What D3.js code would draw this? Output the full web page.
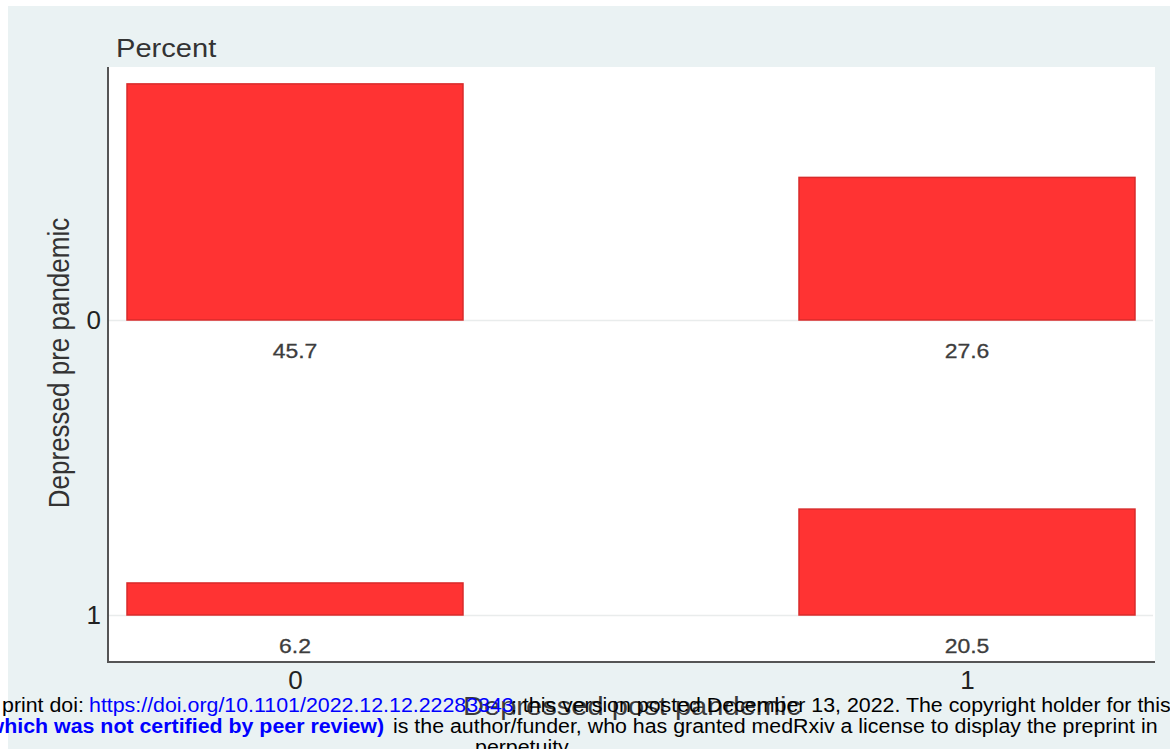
<!DOCTYPE html>
<html>
<head>
<meta charset="utf-8">
<script src="https://cdn.jsdelivr.net/npm/d3@7"></script>
<style>
  html, body { margin: 0; padding: 0; background: #ffffff; }
  svg { display: block; }
  text { font-family: "Liberation Sans", Arial, Helvetica, sans-serif; }
</style>
</head>
<body>
<svg id="chart" width="1170" height="749"></svg>
<script>
// ---- data ----
const preCategories = ["0", "1"];          // Depressed pre pandemic (rows)
const postCategories = ["0", "1"];         // Depressed post pandemic (columns)
const cellPre = ["0", "0", "1", "1"];
const cellPost = ["0", "1", "0", "1"];
const percentValues = [45.7, 27.6, 6.2, 20.5];
const yTitle = "Depressed pre pandemic";
const xTitle = "Depressed post pandemic";
const topTitle = "Percent";

// ---- layout ----
const W = 1170, H = 749;
const plot = { left: 108, right: 1155, top: 67, bottom: 662 };
const SX = 1.12; // horizontal stretch of the original picture

const svg = d3.select("#chart");

svg.append("rect").attr("x", 8).attr("y", 6).attr("width", W - 8).attr("height", H - 6).attr("fill", "#eaf2f3");
svg.append("rect").attr("x", plot.left).attr("y", plot.top)
  .attr("width", plot.right - plot.left).attr("height", plot.bottom - plot.top).attr("fill", "#ffffff");

const x = d3.scalePoint().domain(postCategories).range([295, 967]);
const y = d3.scalePoint().domain(preCategories).range([320, 615]);
const h = d3.scaleLinear().domain([0, 57.1]).range([0, y(preCategories[1]) - y(preCategories[0])]);
const barW = x.step() * 0.5;

const cells = percentValues.map((v, i) => ({ pre: cellPre[i], post: cellPost[i], v }));

// gridlines at row baselines
svg.append("g").selectAll("line").data(preCategories).join("line")
  .attr("x1", plot.left).attr("x2", plot.right - 2)
  .attr("y1", d => y(d) + 0.5).attr("y2", d => y(d) + 0.5)
  .attr("stroke", "#e9ecec").attr("stroke-width", 1.5);

// bars
svg.append("g").selectAll("rect").data(cells).join("rect")
  .attr("x", d => x(d.post) - barW / 2)
  .attr("y", d => y(d.pre) - h(d.v))
  .attr("width", barW)
  .attr("height", d => h(d.v))
  .attr("fill", "#ff3333")
  .attr("stroke", "#d92b2b")
  .attr("stroke-width", 1.5);

function stretched(sel, px, py) {
  sel.attr("x", 0).attr("y", 0).attr("transform", `translate(${px},${py}) scale(${SX},1)`);
}

// value labels
const fmt = d3.format(".1f");
svg.append("g").selectAll("text").data(cells).join("text")
  .attr("text-anchor", "middle")
  .attr("font-size", 20.5)
  .attr("fill", "#3d3d3d")
  .attr("stroke", "#3d3d3d").attr("stroke-width", 0.3)
  .each(function (d) { stretched(d3.select(this), x(d.post), y(d.pre) + 38); })
  .text(d => fmt(d.v));

// axes
const yAxis = svg.append("g").attr("transform", `translate(${plot.left},0)`)
  .call(d3.axisLeft(y).tickSize(0).tickPadding(7));
yAxis.select(".domain").remove();
yAxis.selectAll("text").attr("font-size", 26).attr("fill", "#222")
  .attr("font-family", "'Liberation Sans', Arial, sans-serif");

const xAxis = svg.append("g").attr("transform", `translate(0,${plot.bottom})`)
  .call(d3.axisBottom(x).tickSize(0).tickPadding(9));
xAxis.select(".domain").remove();
xAxis.selectAll("text").attr("font-size", 26).attr("fill", "#222")
  .attr("font-family", "'Liberation Sans', Arial, sans-serif");

svg.append("line").attr("x1", plot.left).attr("x2", plot.left)
  .attr("y1", plot.top).attr("y2", plot.bottom + 1)
  .attr("stroke", "#555").attr("stroke-width", 2);
svg.append("line").attr("x1", plot.left).attr("x2", plot.right)
  .attr("y1", plot.bottom).attr("y2", plot.bottom)
  .attr("stroke", "#555").attr("stroke-width", 2);

// titles
svg.append("text").attr("font-size", 26).attr("fill", "#333")
  .call(s => stretched(s, 116, 57)).text(topTitle);

svg.append("text").attr("font-size", 26).attr("fill", "#333").attr("text-anchor", "middle")
  .attr("transform", `translate(69,363) scale(${SX},1) rotate(-90)`)
  .text(yTitle);

svg.append("text").attr("font-size", 26).attr("fill", "#3a3a3a").attr("text-anchor", "middle")
  .call(s => stretched(s, 632, 715)).text(xTitle);

// medRxiv footer overlay
const FS = 20, FX = 1.068;
function foot(str, px, py, opts = {}) {
  svg.append("text")
    .attr("font-size", FS)
    .attr("fill", opts.fill || "#000")
    .attr("font-weight", opts.bold ? "bold" : "normal")
    .attr("text-anchor", opts.anchor || "start")
    .attr("x", 0).attr("y", 0)
    .attr("transform", `translate(${px},${py}) scale(${FX},1)`)
    .text(str);
}
foot("print doi:", 2, 712);
foot("https://doi.org/10.1101/2022.12.12.22283343", 89, 712, { fill: "#0000ff" });
foot("; this version posted December 13, 2022. The copyright holder for this", 511, 712);
foot("(which was not certified by peer review)", 384, 733, { fill: "#0000ff", bold: true, anchor: "end" });
foot("is the author/funder, who has granted medRxiv a license to display the preprint in", 393, 733);
foot("perpetuity.", 475, 754);
</script>
</body>
</html>
